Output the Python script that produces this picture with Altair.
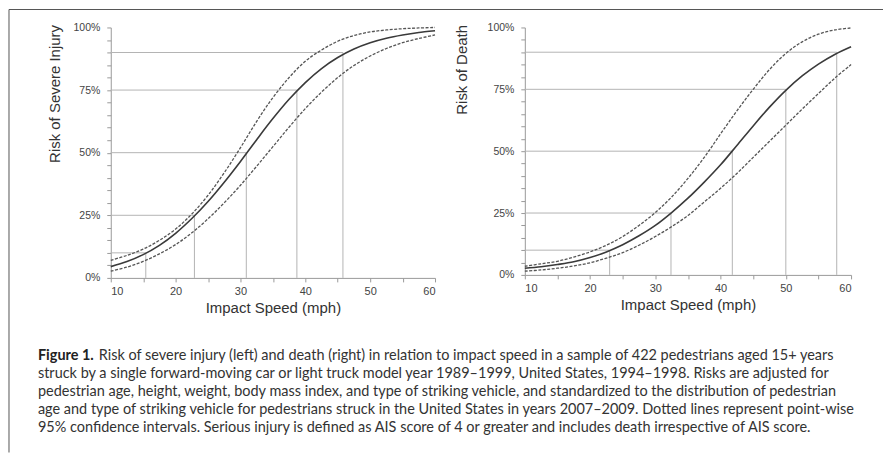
import altair as alt
import pandas as pd

# ---------------- data ----------------
speeds = [10, 12.5, 15, 17.5, 20, 22.5, 25, 27.5, 30, 32.5, 35,
          37.5, 40, 42.5, 45, 47.5, 50, 52.5, 55, 57.5, 60]

injury_mid = [4.5, 6.5, 9.3, 13, 17.8, 23.7, 30.5, 38.2, 46.5, 55.2, 63.6,
              71.3, 78, 83.6, 88, 91.4, 93.9, 95.7, 97, 98, 98.7]
injury_upper = [7, 9, 11.5, 15, 19.5, 25.5, 33, 42, 52, 62.5, 72,
                80, 86.5, 91, 94.5, 96.8, 98.2, 99, 99.5, 99.8, 100]
injury_lower = [2.7, 4.3, 6.6, 9.6, 13.3, 18, 23.6, 30, 37, 44.6, 52.4,
                60.2, 67.6, 74.2, 80, 84.8, 88.6, 91.6, 93.9, 95.6, 97]

death_mid = [2.7, 3.3, 4.2, 5.3, 7, 9.3, 12.2, 15.8, 20, 25.2, 31,
             37.5, 44.5, 52.3, 60.2, 67.8, 74.6, 80.4, 85.2, 89.1, 92.2]
death_upper = [3.5, 4.5, 5.5, 7.2, 9.3, 12, 15.5, 20, 25.2, 31.5, 39,
               47.5, 57, 66.3, 75, 83, 89.5, 94.2, 97.3, 99, 99.8]
death_lower = [1.5, 2, 2.7, 3.6, 4.9, 6.8, 9, 12, 15.5, 19.5, 24,
               29.5, 35, 41, 47.5, 54, 60.5, 67, 73.3, 79.5, 85]

risk_levels = [10, 25, 50, 75, 90]
injury_level_speeds = [15.4, 22.9, 30.9, 38.7, 45.8]
death_level_speeds = [23.0, 32.4, 41.8, 50.0, 57.8]

x_tick_values = [10, 15, 20, 25, 30, 35, 40, 45, 50, 55, 60]
y_tick_values = [0, 5, 10, 15, 20, 25, 30, 35, 40, 45, 50, 55, 60, 65,
                 70, 75, 80, 85, 90, 95, 100]

x_title = "Impact Speed (mph)"
injury_title = "Risk of Severe Injury"
death_title = "Risk of Death"

caption_bold = "Figure 1."
caption_lines = [
    "Risk of severe injury (left) and death (right) in relation to impact speed in a sample of 422 pedestrians aged 15+ years",
    "struck by a single forward-moving car or light truck model year 1989\u20131999, United States, 1994\u20131998. Risks are adjusted for",
    "pedestrian age, height, weight, body mass index, and type of striking vehicle, and standardized to the distribution of pedestrian",
    "age and type of striking vehicle for pedestrians struck in the United States in years 2007\u20132009. Dotted lines represent point-wise",
    "95% confidence intervals. Serious injury is defined as AIS score of 4 or greater and includes death irrespective of AIS score.",
]

FONT = "Liberation Sans"
CAP_FONT = "Lato"
CAP_SIZE = 14.5


def panel(mid, upper, lower, level_speeds, ytitle, width, height, title_x, extras=None):
    curves = pd.DataFrame({
        "speed": speeds * 3,
        "risk": mid + upper + lower,
        "band": ["mid"] * len(speeds) + ["upper"] * len(speeds) + ["lower"] * len(speeds),
    })
    refs = pd.DataFrame({
        "speed": level_speeds,
        "risk": risk_levels,
        "start": [10] * len(risk_levels),
        "zero": [0] * len(risk_levels),
    })

    x_axis = alt.Axis(
        values=x_tick_values,
        labelExpr="datum.value % 10 == 0 ? datum.label : ''",
        title=x_title, tickSize=4, labelPadding=4, titlePadding=4,
        labelFontSize=11, labelFont=FONT, labelColor="#444444",
    )
    y_axis = alt.Axis(
        values=y_tick_values,
        labelExpr="datum.value % 25 == 0 ? datum.value + '%' : ''",
        title=ytitle, tickSize=4, labelPadding=7,
        labelFontSize=10.5, labelFont=FONT, labelColor="#444444",
        titleX=title_x, titleY=-3, titleAlign="right", titleAngle=270,
        titleBaseline="middle",
    )
    xs = alt.Scale(domain=[10, 60], nice=False, zero=False)
    ys = alt.Scale(domain=[0, 100], nice=False)

    hrules = alt.Chart(refs).mark_rule(color="#b4b4b4", strokeWidth=1).encode(
        x=alt.X("start:Q", scale=xs, axis=x_axis),
        x2="speed:Q",
        y=alt.Y("risk:Q", scale=ys, axis=y_axis),
    )
    vrules = alt.Chart(refs).mark_rule(color="#b4b4b4", strokeWidth=1).encode(
        x=alt.X("speed:Q", scale=xs, axis=x_axis),
        y=alt.Y("zero:Q", scale=ys, axis=y_axis),
        y2="risk:Q",
    )
    ci = alt.Chart(curves).transform_filter("datum.band != 'mid'").mark_line(
        color="#555555", strokeWidth=1.3, strokeDash=[3, 1.5], interpolate="catmull-rom"
    ).encode(
        x=alt.X("speed:Q", scale=xs, axis=x_axis),
        y=alt.Y("risk:Q", scale=ys, axis=y_axis),
        detail="band:N",
    )
    main = alt.Chart(curves).transform_filter("datum.band == 'mid'").mark_line(
        color="#3a3a3a", strokeWidth=1.6, interpolate="catmull-rom"
    ).encode(
        x=alt.X("speed:Q", scale=xs, axis=x_axis),
        y=alt.Y("risk:Q", scale=ys, axis=y_axis),
    )
    layers = [hrules, vrules, ci, main] + (extras or [])
    return alt.layer(*layers).properties(width=width, height=height)


# figure frame (top and left edges) and caption, drawn in pixel space of the left panel
frame_df = pd.DataFrame({"k": [0]})
frame_top = alt.Chart(frame_df).mark_rule(color="#555555", strokeWidth=1).encode(
    x=alt.value(-102), x2=alt.value(774), y=alt.value(-18)
)
frame_left = alt.Chart(frame_df).mark_rule(color="#555555", strokeWidth=1).encode(
    x=alt.value(-102), y=alt.value(-18), y2=alt.value(426)
)
cap_bold = alt.Chart(pd.DataFrame({"t": [caption_bold]})).mark_text(
    font=CAP_FONT, fontSize=CAP_SIZE, fontWeight="bold", align="left", baseline="middle", color="#222222"
).encode(x=alt.value(-73), y=alt.value(329), text="t:N")

cap_layers = []
cap_x = [-12, -73, -73, -73, -73]
cap_y = [329, 347, 365, 383, 401]
for i, line in enumerate(caption_lines):
    cap_layers.append(
        alt.Chart(pd.DataFrame({"t": [line]})).mark_text(
            font=CAP_FONT, fontSize=CAP_SIZE, align="left", baseline="middle", color="#333333"
        ).encode(x=alt.value(cap_x[i]), y=alt.value(cap_y[i]), text="t:N")
    )

left = panel(injury_mid, injury_upper, injury_lower, injury_level_speeds,
             injury_title, 325, 251, -56,
             extras=[frame_top, frame_left, cap_bold] + cap_layers)
right = panel(death_mid, death_upper, death_lower, death_level_speeds,
              death_title, 327, 248, -63)

chart = alt.hconcat(left, right, spacing=90, bounds="flush").properties(
    padding=0
).configure_view(stroke=None).configure_axis(
    grid=False,
    domainColor="#9a9a9a",
    tickColor="#9a9a9a",
    titleFont=FONT,
    titleFontSize=15,
    titleFontWeight="normal",
    titleColor="#333333",
)

chart.save("out.html", embed_options={"renderer": "svg", "actions": False})
